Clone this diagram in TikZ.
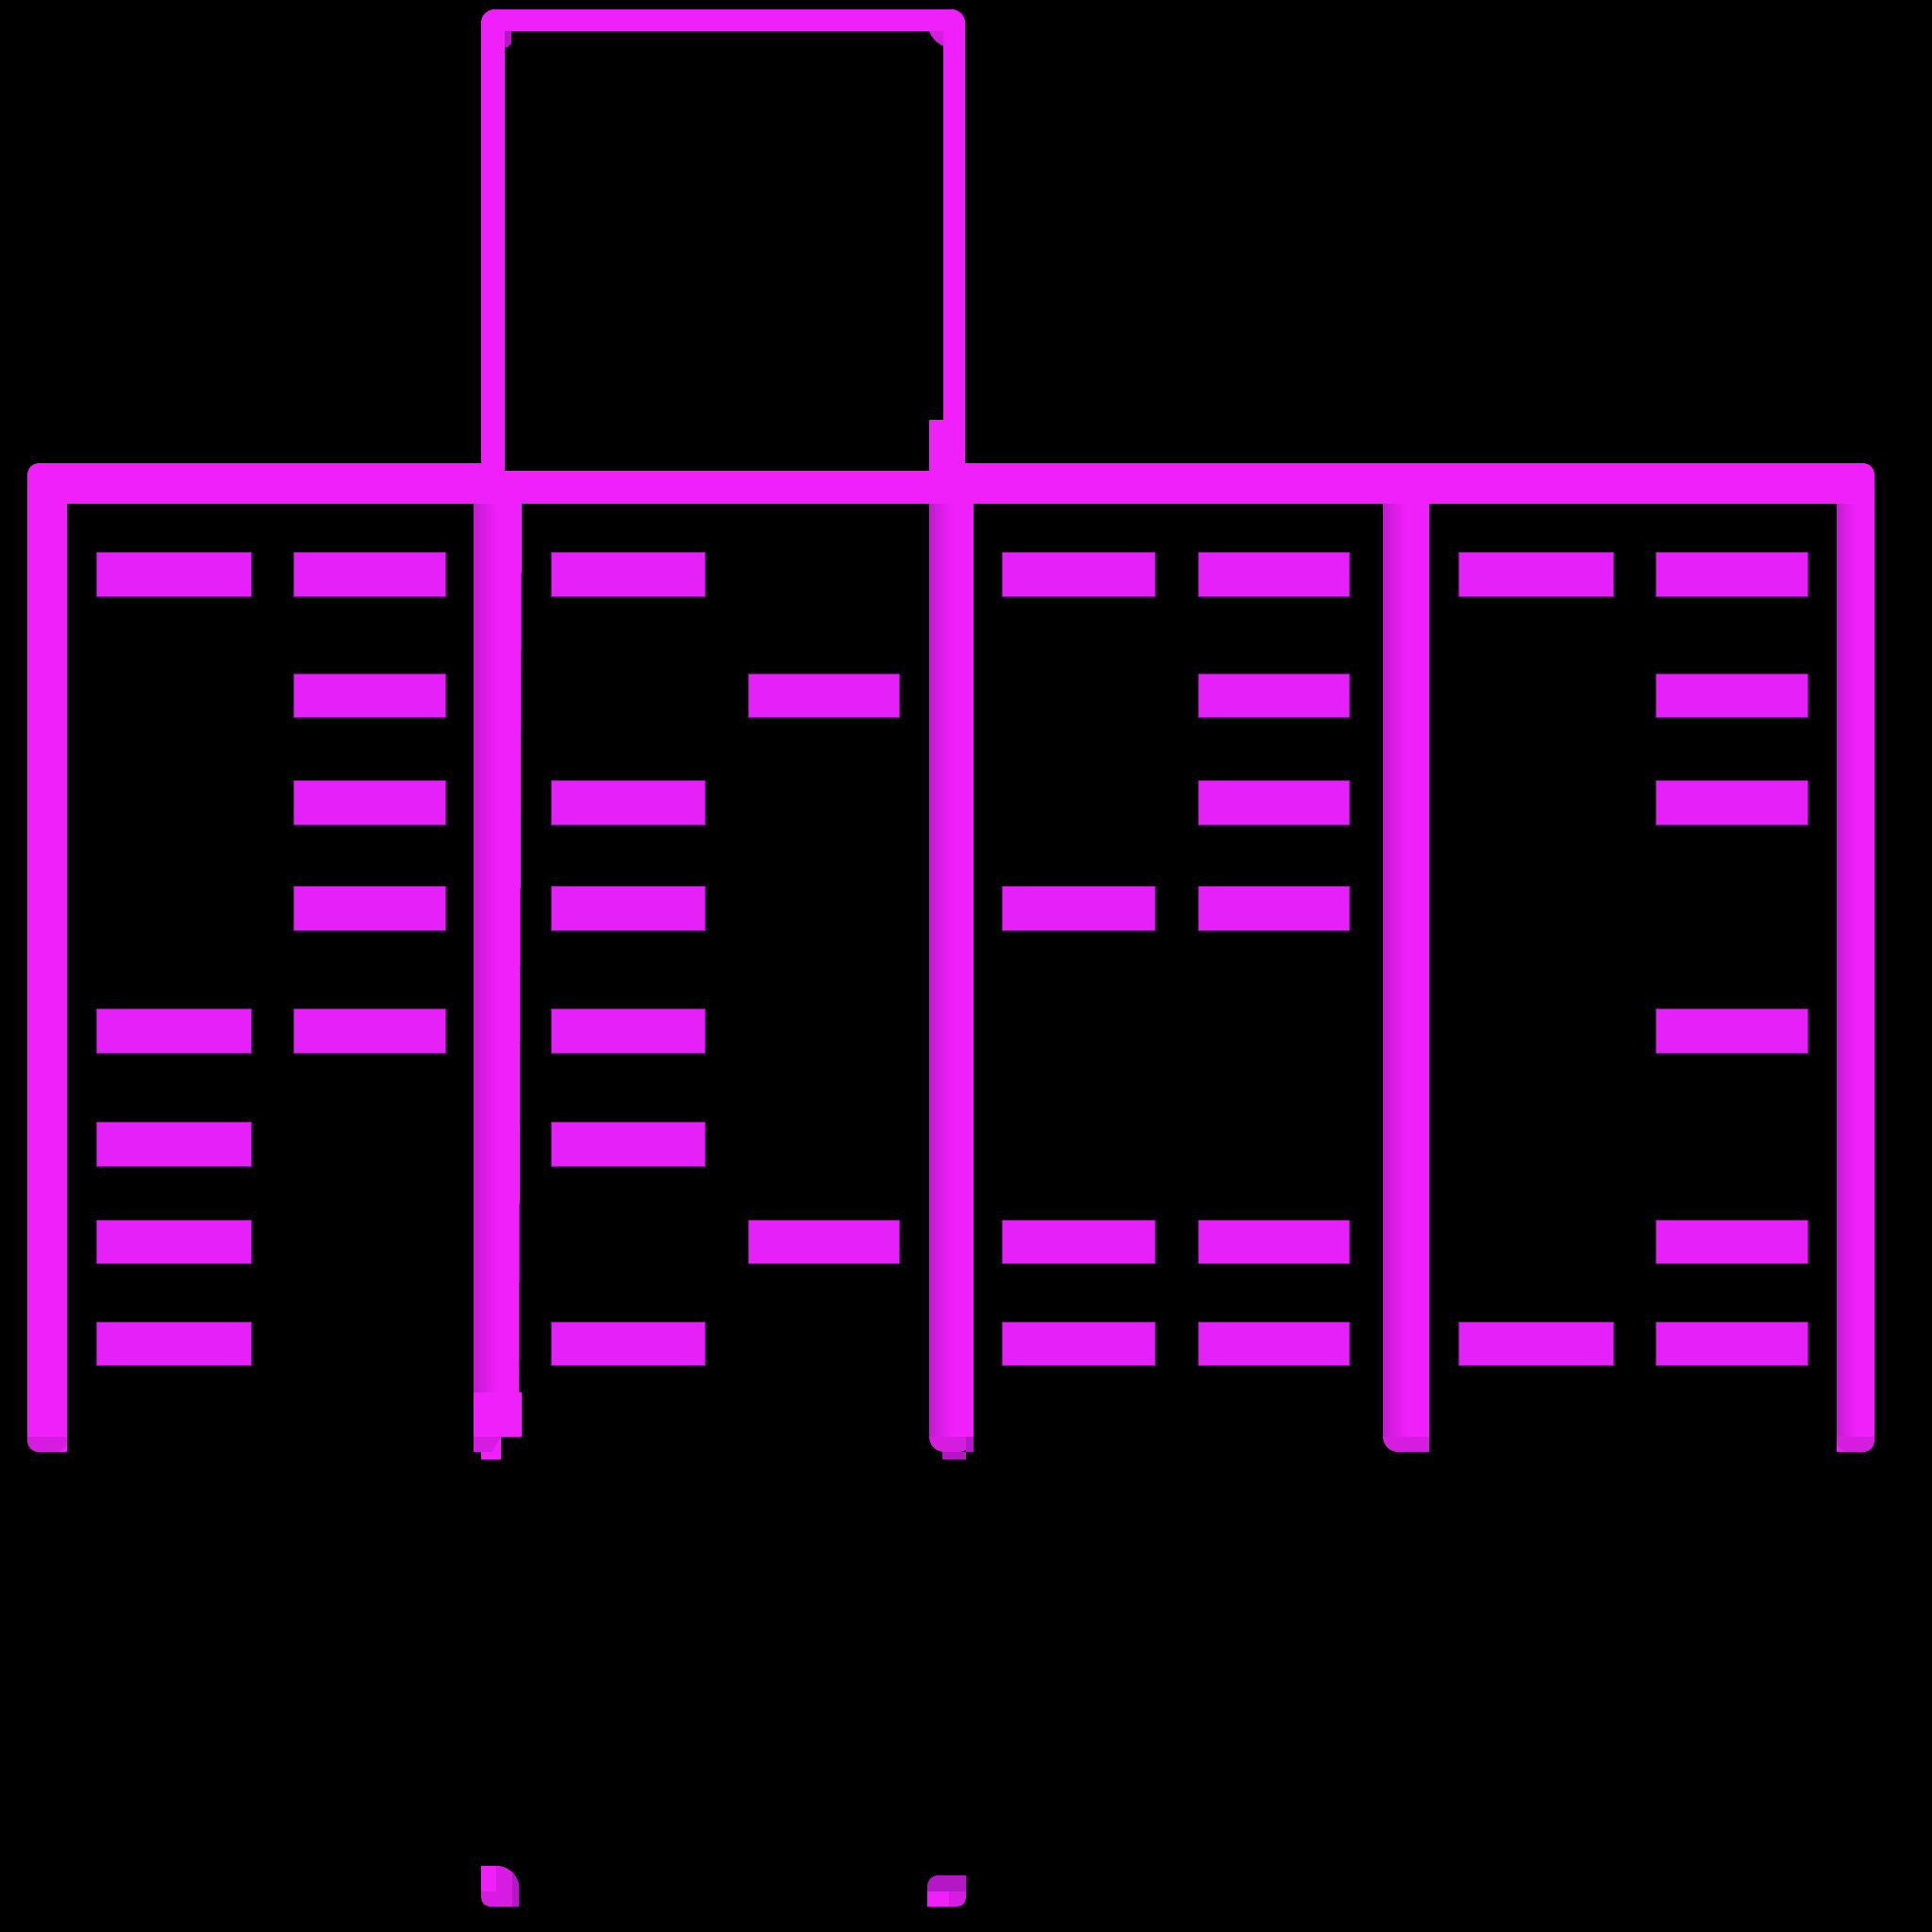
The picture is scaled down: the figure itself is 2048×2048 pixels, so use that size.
\documentclass[tikz,border=0pt]{standalone}
\definecolor{mag}{RGB}{240,32,250}
\definecolor{barc}{RGB}{230,32,248}
\definecolor{barline}{RGB}{130,16,150}
\definecolor{magmid}{RGB}{214,28,224}
\definecolor{magdark}{RGB}{180,24,196}
\definecolor{magshade}{RGB}{196,26,210}
\begin{document}
\begin{tikzpicture}[x=0.5pt,y=-0.5pt,
  frame/.style={fill=mag},
  gelbar/.style={fill=barc,draw=barline,line width=0.5pt},
  edgeshade/.style={left color=magshade,right color=mag}]
\fill[black] (0,0) rectangle (2048,2048);
\useasboundingbox (0,0) rectangle (2048,2048);

% ---- main top bar and outer legs
\fill[frame, rounded corners=7pt] (29,491) rectangle (1987,534);
\fill[frame, rounded corners=6pt] (29,491) rectangle (71,1539);
\fill[frame] (50,520) rectangle (71,1539);
\begin{scope}
  \clip[rounded corners=6pt] (29,491) rectangle (71,1539);
  \fill[magmid] (29,1523) rectangle (71,1539);
\end{scope}
% right leg
\fill[frame, rounded corners=6pt] (1947,491) rectangle (1987,1539);
\fill[frame] (1947,520) rectangle (1967,1539);
\begin{scope}
  \clip[rounded corners=6pt] (1947,491) rectangle (1987,1539);
  \shade[edgeshade] (1947,534) rectangle (1966,1523);
  \fill[magmid] (1947,1523) rectangle (1987,1539);
\end{scope}

% ---- divider 1
\fill[frame] (502,520) -- (553,520) -- (550,1523) -- (502,1523) -- cycle;
\shade[edgeshade] (502,534) rectangle (527,1476);
\fill[frame] (502,1476) rectangle (553,1523);
\fill[magmid] (502,1523) rectangle (531,1539);
\fill[frame] (531,1523) -- (522,1539) -- (510,1547) -- (531,1547) -- cycle;
\fill[frame] (510,1539) rectangle (531,1547);

% ---- divider 2
\begin{scope}
  \clip[rounded corners=8pt] (985,480) rectangle (1032,1539);
  \fill[frame] (985,520) rectangle (1032,1523);
  \shade[edgeshade] (985,534) rectangle (1010,1523);
  \fill[magmid] (985,1523) rectangle (1032,1539);
\end{scope}
\fill[frame] (1010,520) rectangle (1032,1523);
\fill[magdark] (1024,1523) rectangle (1032,1539);
\fill[magdark] (999,1539) rectangle (1024,1547);

% ---- divider 3
\begin{scope}
  \clip[rounded corners=8pt] (1466,480) rectangle (1515,1539);
  \fill[frame] (1466,520) rectangle (1515,1523);
  \shade[edgeshade] (1466,534) rectangle (1491,1523);
  \fill[magmid] (1466,1523) rectangle (1515,1539);
\end{scope}
\fill[frame] (1491,520) rectangle (1515,1523);
\fill[magmid] (1491,1523) rectangle (1515,1539);

% ---- top box
\fill[frame, rounded corners=7pt] (510,10) rectangle (1023,499);
\fill[frame] (510,40) rectangle (1023,499);
\fill[black] (535,33) rectangle (1000,499);
\fill[magdark] (535,33) -- (542,33) -- (542,46) -- (538,50) -- (535,50) -- cycle;
\fill[magmid] (985,33) -- (1000,33) -- (1000,49) .. controls (993,45) and (987,40) .. (985,33) -- cycle;
\fill[frame] (985,445) rectangle (1000,499);

% ---- gel bars
\foreach \xa/\xb/\ya/\yb in {
  102.5/266.5/585.5/632, 311.5/472/585.5/632, 584/747/585.5/632,
  1062/1224/585.5/632, 1270/1430/585.5/632, 1546.5/1710/585.5/632, 1755/1916/585.5/632,
  311.5/472/714/760.5, 793/953/714/760.5, 1270/1430/714/760.5, 1755/1916/714/760.5,
  311.5/472/827/874, 584/747/827/874, 1270/1430/827/874, 1755/1916/827/874,
  311.5/472/939.5/986.5, 584/747/939.5/986.5, 1062/1224/939.5/986.5, 1270/1430/939.5/986.5,
  102.5/266.5/1069/1116, 311.5/472/1069/1116, 584/747/1069/1116, 1755/1916/1069/1116,
  102.5/266.5/1189/1236, 584/747/1189/1236,
  102.5/266.5/1293/1339, 793/953/1293/1339, 1062/1224/1293/1339, 1270/1430/1293/1339, 1755/1916/1293/1339,
  102.5/266.5/1401/1447.5, 584/747/1401/1447.5, 1062/1224/1401/1447.5, 1270/1430/1401/1447.5,
  1546.5/1710/1401/1447.5, 1755/1916/1401/1447.5}
  \filldraw[gelbar] (\xa,\ya) rectangle (\xb,\yb);

% ---- bottom fragments
\begin{scope}
  \clip (510,1978) -- (528,1978) .. controls (540,1978) and (550,1990) .. (550,2000)
        -- (550,2021) -- (520,2021) .. controls (514,2021) and (510,2017) .. (510,2011) -- cycle;
  \fill[magmid] (505,1970) rectangle (555,2025);
  \fill[frame] (505,1970) rectangle (526,2005);
  \fill[magdark] (543,1970) rectangle (555,2025);
\end{scope}
\begin{scope}
  \clip (983,2000) .. controls (983,1993) and (988,1988) .. (995,1988) -- (1024,1988)
        -- (1024,2011) .. controls (1024,2017) and (1020,2021) .. (1014,2021) -- (983,2021) -- cycle;
  \fill[magmid] (980,1985) rectangle (1028,2025);
  \fill[magdark] (980,1985) rectangle (1028,2005);
  \fill[frame] (980,2005) rectangle (1006,2025);
\end{scope}
\end{tikzpicture}
\end{document}
